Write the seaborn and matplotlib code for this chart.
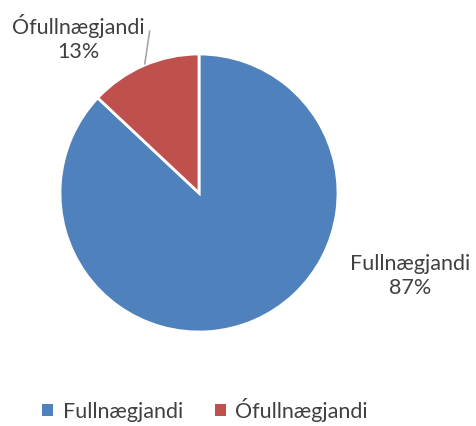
import numpy as np
import matplotlib
matplotlib.use("Agg")
import matplotlib.pyplot as plt
import seaborn as sns
from matplotlib.patches import Patch

sns.set_theme(style="white")
plt.rcParams['font.family'] = ['Lato', 'DejaVu Sans']

categories = ["Fullnægjandi", "Ófullnægjandi"]
values = [87, 13]
colors = ["#4F81BD", "#C0504D"]
text_color = "#404040"

W, H = 477, 426
fig = plt.figure(figsize=(W / 100, H / 100), dpi=100)
cx, cy, r = 199, 193, 139
ax = fig.add_axes([(cx - r) / W, (H - cy - r) / H, 2 * r / W, 2 * r / H])
wedges, _ = ax.pie(values, colors=colors, startangle=90, counterclock=False,
                   radius=1, wedgeprops=dict(edgecolor="white", linewidth=2))
ax.set_xlim(-1, 1)
ax.set_ylim(-1, 1)
ax.set_aspect("equal")
ax.axis("off")

fs = 15.5
# Labels
ax.text(1.52, -0.60, f"{categories[0]}\n{values[0]}%", ha="center", va="center",
        fontsize=fs, color=text_color, linespacing=1.25, clip_on=False)
ax.text(-0.87, 1.115, f"{categories[1]}\n{values[1]}%", ha="center", va="center",
        fontsize=fs, color=text_color, linespacing=1.25, clip_on=False)
# leader line for small slice
w = wedges[1]
mid = np.deg2rad((w.theta1 + w.theta2) / 2)
ax.annotate("", xy=(0.99 * np.cos(mid), 0.99 * np.sin(mid)), xytext=(-0.352, 1.185),
            arrowprops=dict(arrowstyle="-", color="#A6A6A6", lw=1.2), annotation_clip=False)

handles = [Patch(facecolor=c, edgecolor="none") for c in colors]
fig.legend(handles, categories, loc="center", bbox_to_anchor=(205 / W, 1 - 410 / H),
           ncol=2, frameon=False, fontsize=fs, handlelength=0.5, handleheight=0.5,
           handletextpad=0.45, columnspacing=1.48, labelcolor=text_color)

fig.savefig("out.png", dpi=100, facecolor="white")
